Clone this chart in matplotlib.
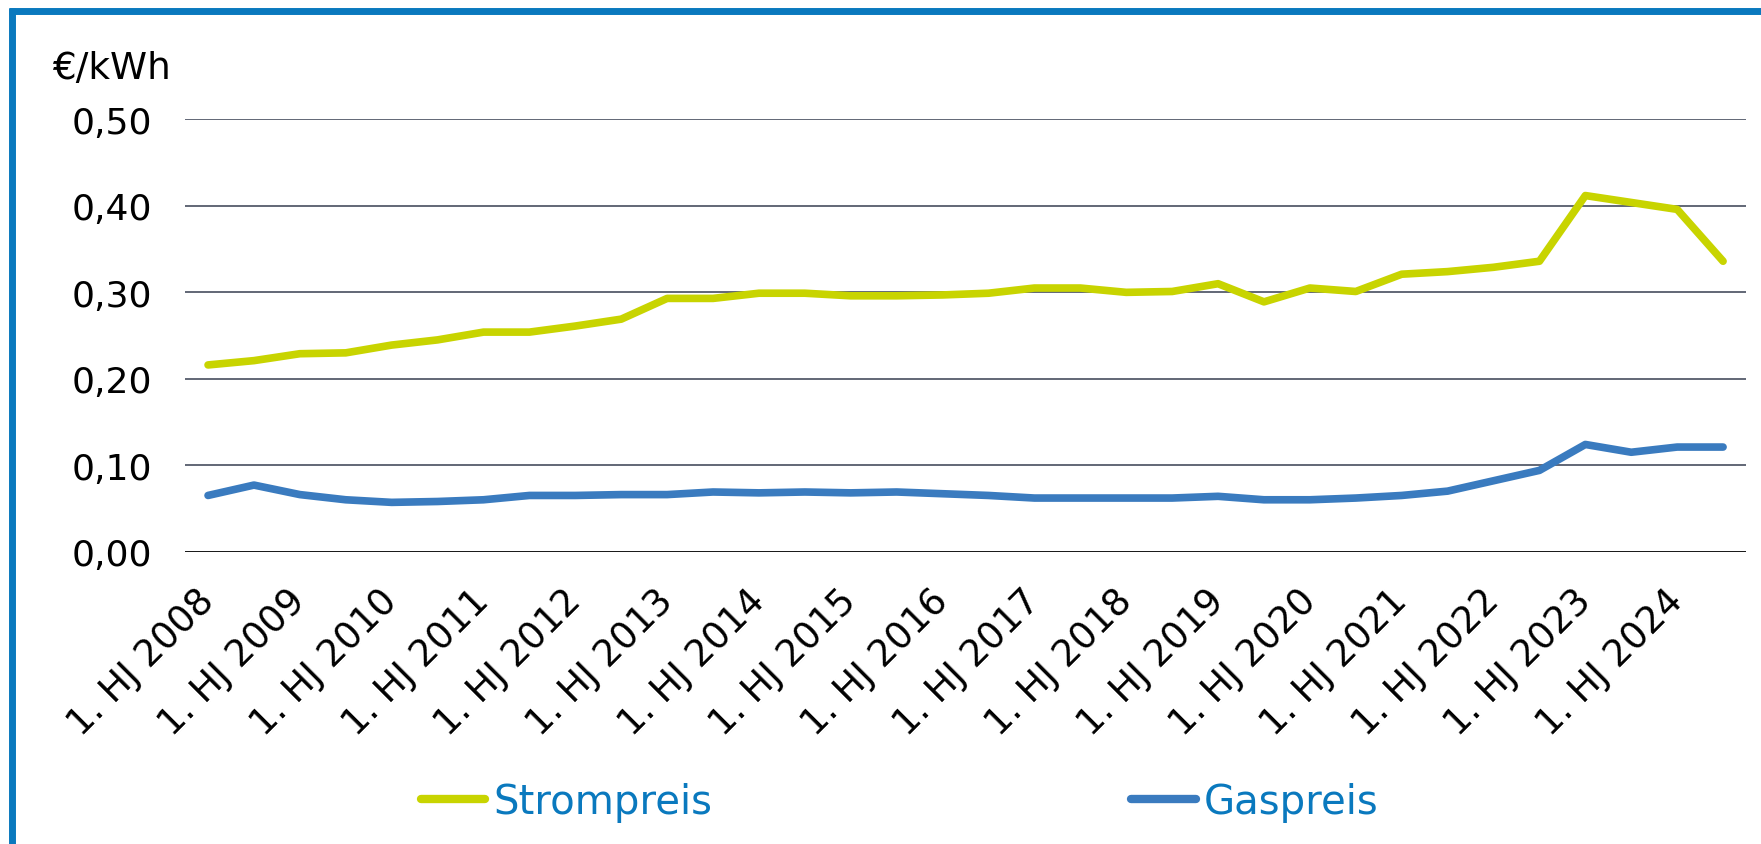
import matplotlib
matplotlib.use("Agg")
import matplotlib.pyplot as plt
from matplotlib.lines import Line2D
import numpy as np

# Halbjahre 1. HJ 2008 ... 2. HJ 2024
perioden = []
for jahr in range(2008, 2025):
    perioden.append(f"1. HJ {jahr}")
    perioden.append(f"2. HJ {jahr}")

strompreis = [0.216, 0.221, 0.229, 0.230, 0.239, 0.245, 0.254, 0.254, 0.261, 0.269,
              0.293, 0.293, 0.299, 0.299, 0.296, 0.296, 0.297, 0.299, 0.305, 0.305,
              0.300, 0.301, 0.310, 0.289, 0.305, 0.301, 0.321, 0.324, 0.329, 0.336,
              0.412, 0.404, 0.396, 0.336]

gaspreis = [0.065, 0.077, 0.066, 0.060, 0.057, 0.058, 0.060, 0.065, 0.065, 0.066,
            0.066, 0.069, 0.068, 0.069, 0.068, 0.069, 0.067, 0.065, 0.062, 0.062,
            0.062, 0.062, 0.064, 0.060, 0.060, 0.062, 0.065, 0.070, 0.082, 0.094,
            0.124, 0.115, 0.121, 0.121]

yticks = [0.0, 0.1, 0.2, 0.3, 0.4, 0.5]

farbe_strom = "#c8d400"
farbe_gas = "#3a7bbf"
farbe_blau = "#0a79be"

plt.rcParams["font.family"] = ["DejaVu Sans"]

fig = plt.figure(figsize=(17.61, 8.45), dpi=100)
ax = fig.add_axes([0.1051, 0.346, 0.8864, 0.5114])

x = np.arange(len(perioden))
ax.plot(x, strompreis, color=farbe_strom, lw=5.5, label="Strompreis", solid_capstyle="round")
ax.plot(x, gaspreis, color=farbe_gas, lw=5.5, label="Gaspreis", solid_capstyle="round")

ax.set_xlim(-0.5, len(perioden) - 0.5)
ax.set_ylim(0, 0.5)
ax.set_yticks(yticks, [f"{v:.2f}".replace(".", ",") for v in yticks])
ax.set_xticks(x[::2], perioden[::2])

for v in yticks[1:]:
    ax.axhline(v, color="#555c6b", lw=1.3, zorder=0)
ax.axhline(0, color="black", lw=2.0, zorder=1)

for s in ax.spines.values():
    s.set_visible(False)
ax.tick_params(axis="both", length=0)
ax.tick_params(axis="y", labelsize=26, pad=24)
ax.tick_params(axis="x", labelsize=26.5, pad=31)
for lbl in ax.get_xticklabels():
    lbl.set_rotation(45)
    lbl.set_ha("right")
    lbl.set_va("center")
    lbl.set_rotation_mode("anchor")

fig.text(52 / 1761, 1 - 69 / 845, "€/kWh", fontsize=27, va="center", ha="left")

leg = fig.legend(loc="center", bbox_to_anchor=(0.511, 0.05), ncol=2, frameon=False,
                 fontsize=29, handlelength=1.6, handletextpad=0.2, columnspacing=10.4)
for t in leg.get_texts():
    t.set_color(farbe_blau)
for h in leg.get_lines():
    h.set_linewidth(6)

# blauer Rahmen oben und links
fig.add_artist(Line2D([8.5 / 1761, 1], [1 - 12 / 845, 1 - 12 / 845], color=farbe_blau, lw=5,
                      solid_capstyle="butt", transform=fig.transFigure))
fig.add_artist(Line2D([12 / 1761, 12 / 1761], [1 - 8.5 / 845, 0], color=farbe_blau, lw=5,
                      solid_capstyle="butt", transform=fig.transFigure))

fig.savefig("out.png", dpi=100)
